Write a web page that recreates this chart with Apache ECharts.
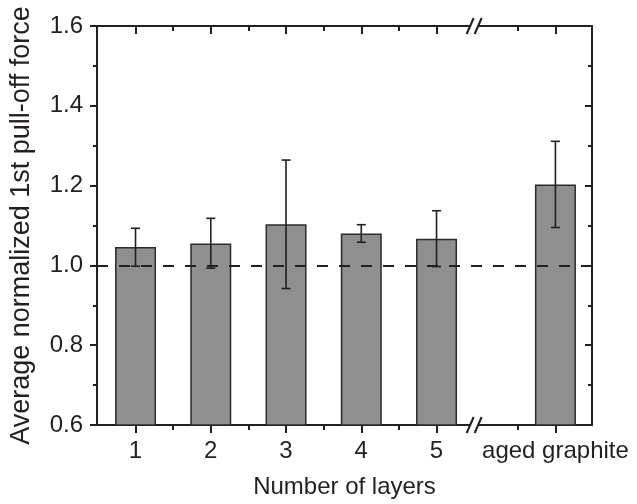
<!DOCTYPE html>
<html><head><meta charset="utf-8">
<script src="https://cdn.jsdelivr.net/npm/echarts@6/dist/echarts.min.js"></script>
<style>html,body{margin:0;padding:0;background:#fff}#c{width:637px;height:504px}</style>
</head><body><div id="c"></div>
<script>
// ---- data ----
const categories = ['1', '2', '3', '4', '5', 'aged graphite'];
const meanForce = [1.046, 1.055, 1.103, 1.080, 1.067, 1.203];
const errLow    = [0.998, 0.993, 0.942, 1.058, 0.997, 1.095];
const errHigh   = [1.093, 1.118, 1.264, 1.102, 1.137, 1.311];
const yTicks = [0.6, 0.8, 1.0, 1.2, 1.4, 1.6];
const refLevel = 1.0;
const xTitle = 'Number of layers';
const yTitle = 'Average normalized 1st pull-off force';

// ---- layout (axis placement of categories, with a broken axis before the last one) ----
const AGED_POS = 6.58;
const BREAK_POS = 5.5;
const X_MIN = 0.488, X_MAX = 7.066;
const positions = categories.map((c, i) => (i < 5 ? i + 1 : AGED_POS));
const minorTicks = [1.5, 2.5, 3.5, 4.5, AGED_POS - 0.5];

const INK = '#231f20';
const FONT = '"Liberation Sans", Arial, sans-serif';

function labelFor(v) {
  let best = 0;
  positions.forEach((p, i) => { if (Math.abs(p - v) < Math.abs(positions[best] - v)) best = i; });
  return categories[best];
}

function xAx(position, ticks, len, showLine, showLabel, inside) {
  return {
    type: 'value', position, min: X_MIN, max: X_MAX,
    axisLine: { show: showLine, onZero: false, lineStyle: { color: INK, width: 2 } },
    axisTick: { show: true, inside: inside, length: len, customValues: ticks, lineStyle: { color: INK, width: 2 } },
    axisLabel: showLabel ? {
      show: true, customValues: positions, formatter: labelFor, margin: 14,
      color: INK, fontSize: 24, fontFamily: FONT
    } : { show: false },
    splitLine: { show: false },
    name: showLabel ? xTitle : '', nameLocation: 'middle', nameGap: 50,
    nameTextStyle: { color: INK, fontSize: 24, fontFamily: FONT }
  };
}

function yAx(position, showLabel, inside) {
  return {
    type: 'value', position, min: yTicks[0], max: yTicks[yTicks.length - 1], interval: 0.2,
    axisLine: { show: true, onZero: false, lineStyle: { color: INK, width: 2 } },
    axisTick: { show: true, inside: inside, length: 7, lineStyle: { color: INK, width: 2 } },
    minorTick: { show: true, splitNumber: 2, length: 4, lineStyle: { color: INK, width: 2 } },
    axisLabel: showLabel ? { show: true, margin: 14, color: INK, fontSize: 24, fontFamily: FONT,
      formatter: v => v.toFixed(1) } : { show: false },
    splitLine: { show: false },
    name: showLabel ? yTitle : '', nameLocation: 'middle', nameGap: 62, nameRotate: 90,
    nameTextStyle: { color: INK, fontSize: 27, fontFamily: FONT }
  };
}

const chart = echarts.init(document.getElementById('c'), null, { renderer: 'canvas' });
chart.setOption({
  animation: false,
  backgroundColor: '#fff',
  grid: { left: 97, right: 45, top: 26, bottom: 79, containLabel: false },
  xAxis: [
    xAx('bottom', positions, 8, true, true, false),
    xAx('bottom', minorTicks, 5, false, false, false),
    xAx('top', positions, 8, true, false, true),
    xAx('top', minorTicks, 5, false, false, true)
  ],
  yAxis: [
    yAx('left', true, false),
    yAx('right', false, true)
  ],
  series: [
    {
      type: 'bar', xAxisIndex: 0, yAxisIndex: 0,
      data: positions.map((p, i) => [p, meanForce[i]]),
      barWidth: 41,
      itemStyle: { color: '#8f8f8f', borderColor: '#2b2b2b', borderWidth: 1.5 },
      markLine: {
        silent: true, symbol: ['none', 'none'], label: { show: false },
        lineStyle: { type: [11, 11], color: INK, width: 2 },
        data: [{ yAxis: refLevel }]
      },
      z: 2
    },
    {
      type: 'custom', xAxisIndex: 0, yAxisIndex: 0, z: 4,
      data: positions.map((p, i) => [p, errLow[i], errHigh[i]]),
      encode: { x: 0, y: [1, 2] },
      renderItem: function (params, api) {
        const lo = api.coord([api.value(0), api.value(1)]);
        const hi = api.coord([api.value(0), api.value(2)]);
        const w = 4.5;
        const st = { stroke: INK, lineWidth: 1.6 };
        return {
          type: 'group', children: [
            { type: 'line', shape: { x1: hi[0], y1: hi[1], x2: lo[0], y2: lo[1] }, style: st },
            { type: 'line', shape: { x1: hi[0] - w, y1: hi[1], x2: hi[0] + w, y2: hi[1] }, style: st },
            { type: 'line', shape: { x1: lo[0] - w, y1: lo[1], x2: lo[0] + w, y2: lo[1] }, style: st }
          ]
        };
      }
    },
    {
      type: 'custom', xAxisIndex: 0, yAxisIndex: 0, z: 10, clip: false, silent: true,
      data: [[BREAK_POS, yTicks[0]], [BREAK_POS, yTicks[yTicks.length - 1]]],
      encode: { x: 0, y: 1 },
      renderItem: function (params, api) {
        const c = api.coord([api.value(0), api.value(1)]);
        const st = { stroke: INK, lineWidth: 2 };
        const dx = 3.5, dy = 8, off = 4;
        return {
          type: 'group', children: [
            { type: 'rect', shape: { x: c[0] - off, y: c[1] - 3, width: 2 * off, height: 6 }, style: { fill: '#fff' } },
            { type: 'line', shape: { x1: c[0] - off - dx, y1: c[1] + dy, x2: c[0] - off + dx, y2: c[1] - dy }, style: st },
            { type: 'line', shape: { x1: c[0] + off - dx, y1: c[1] + dy, x2: c[0] + off + dx, y2: c[1] - dy }, style: st }
          ]
        };
      }
    }
  ]
});
</script>
</body></html>
